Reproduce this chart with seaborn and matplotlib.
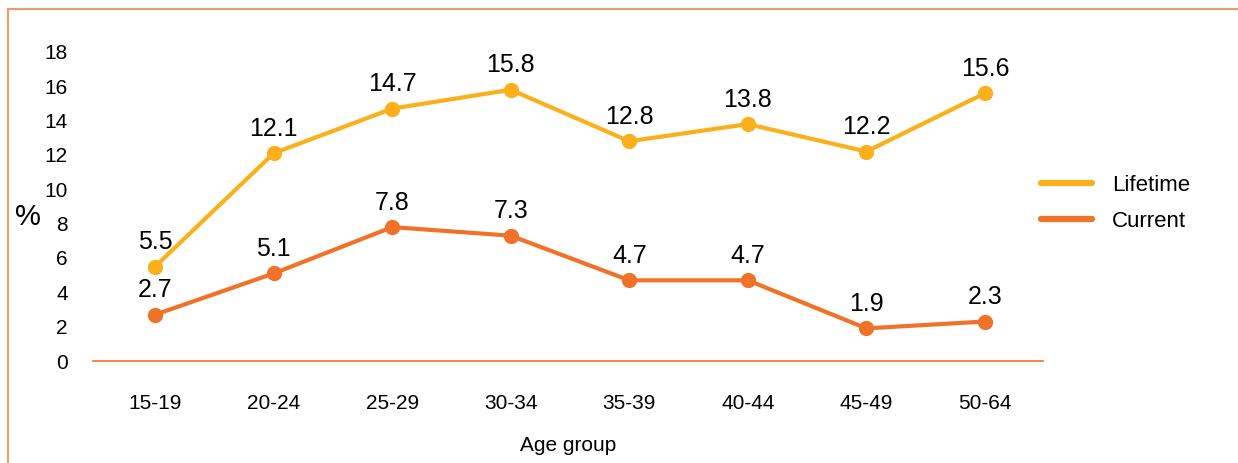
import pandas as pd
import matplotlib
matplotlib.use("Agg")
import matplotlib.pyplot as plt
import seaborn as sns

# Data
age_groups = ["15-19", "20-24", "25-29", "30-34", "35-39", "40-44", "45-49", "50-64"]
lifetime = [5.5, 12.1, 14.7, 15.8, 12.8, 13.8, 12.2, 15.6]
current = [2.7, 5.1, 7.8, 7.3, 4.7, 4.7, 1.9, 2.3]
y_ticks = [0, 2, 4, 6, 8, 10, 12, 14, 16, 18]

YELLOW = "#FBB01B"
ORANGE = "#F07228"

sns.set_theme(style="white")
plt.rcParams['font.family'] = ['Liberation Sans', 'DejaVu Sans']

df = pd.DataFrame({
    "Age group": age_groups * 2,
    "value": lifetime + current,
    "series": ["Lifetime"] * len(age_groups) + ["Current"] * len(age_groups),
})

fig = plt.figure(figsize=(12.38, 4.63), dpi=100)
ax = fig.add_axes([0.075, 0.2203, 0.7675, 0.6674])

sns.lineplot(data=df, x="Age group", y="value", hue="series",
             palette={"Lifetime": YELLOW, "Current": ORANGE},
             marker="o", markersize=11, markeredgewidth=0, linewidth=3.0,
             sort=False, ax=ax)

# value labels
for vals in (lifetime, current):
    for i, v in enumerate(vals):
        ax.annotate(f"{v}", (i, v), xytext=(0, 9), textcoords="offset points",
                    ha="center", va="bottom", fontsize=18, color="black")

ax.set_xlim(-0.525, 7.49)
ax.set_ylim(0, 18)
ax.set_yticks(y_ticks)
ax.tick_params(axis="y", labelsize=15, length=0, pad=18, labelcolor="black")
ax.tick_params(axis="x", labelsize=15, length=0, pad=24, labelcolor="black")
ax.set_xlabel("Age group", fontsize=15, labelpad=16, color="black")
ax.set_ylabel("%", fontsize=21, rotation=0, labelpad=0, color="black")
ax.yaxis.set_label_coords(-0.068, 0.42)

for s in ["top", "right", "left"]:
    ax.spines[s].set_visible(False)
ax.spines["bottom"].set_color(ORANGE)
ax.spines["bottom"].set_linewidth(1.2)

leg = ax.legend(loc="center left", bbox_to_anchor=(0.977, 0.51), frameon=False,
                fontsize=16, handlelength=2.3, handletextpad=0.9, labelspacing=0.7)
for line in leg.get_lines():
    line.set_linewidth(4.5)
    line.set_marker("")
for t in leg.get_texts():
    t.set_color("black")

# orange frame edges at top and left of the figure
fig.add_artist(plt.Line2D([0.0065, 1.0], [0.981, 0.981], color="#F29A62", lw=1.5,
                          transform=fig.transFigure))
fig.add_artist(plt.Line2D([0.0065, 0.0065], [0.0, 0.981], color="#F29A62", lw=1.5,
                          transform=fig.transFigure))

fig.savefig("out.png", dpi=100)
